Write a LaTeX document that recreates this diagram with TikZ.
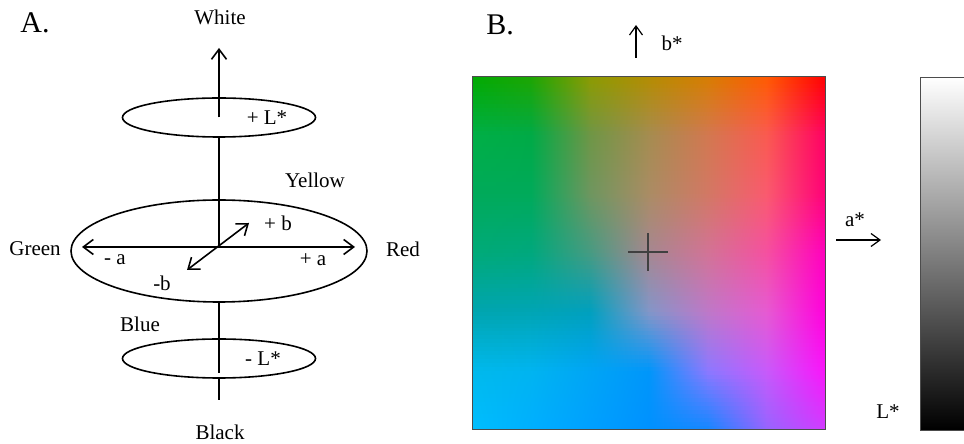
\documentclass[tikz,border=0pt]{standalone}
\usepackage{fontspec}
\setmainfont{Liberation Serif}
\usepackage{tikz}
\usetikzlibrary{arrows.meta,shapes.geometric}
\tikzset{
    >={Straight Barb[length=10pt,width=15pt]}, % open v-shaped heads
    axisline/.style={line width=1.6pt, draw=black},
    level/.style={ellipse, draw=black, line width=1.6pt, inner sep=0pt},
    lbl/.style={font=\fontsize{21}{24}\selectfont, inner sep=0pt},
    panel/.style={font=\fontsize{30}{34}\selectfont, inner sep=0pt},
    thinarrow/.style={line width=1.2pt, -{Straight Barb[length=9pt,width=13pt]}},
    thinframe/.style={line width=0.8pt, draw=black!70}
}
% control colours of the a*b* plane, rows top to bottom (7x7, 0..255)
\def\Rgrid{{0,30,140,180,215,255,255,0,0,110,165,210,250,255,0,0,110,170,210,250,255,0,0,70,165,210,245,255,0,0,0,130,190,230,255,0,0,0,0,140,200,250,0,0,0,0,20,150,210}}
\def\Ggrid{{170,165,155,140,125,90,0,175,170,150,140,120,90,0,170,170,150,140,120,90,0,170,168,155,135,115,80,0,165,165,160,150,120,90,0,185,180,165,150,120,90,20,190,175,160,145,135,100,60}}
\def\Bgrid{{0,0,0,0,0,0,0,70,70,70,80,80,80,100,90,90,95,100,100,110,120,120,125,130,145,150,160,190,175,180,190,200,200,210,220,235,240,245,250,255,250,250,255,255,255,255,255,255,255}}
% look up one channel at grid index #3 and #4, blend with \s
\newcommand{\gridmix}[4]{%
  \pgfmathsetmacro{\gua}{#2[#3]}%
  \pgfmathsetmacro{\gub}{#2[#4]}%
  \pgfmathsetmacro{#1}{(\gua*(1-\s)+\gub*\s)/255}%
}

\begin{document}
\begin{tikzpicture}[x=1pt,y=1pt]
  \useasboundingbox (0,0) rectangle (964,444);

  % ---------- A. the L*a*b* solid ----------
  \node[panel] (titleA) at (35,421) {A.};

  \node[level, minimum width=193pt, minimum height=39pt] (lplus) at (219,326.5) {};
  \node[level, minimum width=296pt, minimum height=102pt] (lzero) at (219,193) {};
  \node[level, minimum width=193pt, minimum height=39pt] (lminus) at (219,85.5) {};

  \coordinate (O) at (219,197);
  \coordinate (Ltop) at (219,396);
  \coordinate (cut) at (219,71);
  \coordinate (Lbot) at (219,44);
  \coordinate (amin) at (82,197);
  \coordinate (aplus) at (355,197);
  \coordinate (bmin) at (187,174);
  \coordinate (bplus) at (249,221);

  % lightness axis, hidden behind the front halves
  \draw[axisline,->] (lplus.center) -- (Ltop);
  \draw[axisline] (lplus.south) -- (O);
  \draw[axisline] (lzero.south) -- (cut);
  \draw[axisline] (lminus.south) -- (Lbot);

  % a and b axes
  \draw[axisline,<->] (amin) -- (aplus);
  \draw[axisline,<->] (bmin) -- (bplus);

  \node[lbl] (white) at (220,427) {White};
  \node[lbl] (black) at (220,12) {Black};
  \node[lbl] (yellow) at (315,264) {Yellow};
  \node[lbl] (blue) at (140,120) {Blue};
  \node[lbl] (green) at (35,195) {Green};
  \node[lbl] (red) at (403,195) {Red};
  \node[lbl] (Lp) at (267,326) {+ L*};
  \node[lbl] (Lm) at (263,85) {- L*};
  \node[lbl] (bp) at (278,221) {+ b};
  \node[lbl] (bm) at (162,161) {-b};
  \node[lbl] (am) at (115,184) {- a};
  \node[lbl] (ap) at (313,184) {+ a};

  % ---------- B. the a*b* plane ----------
  \node[panel] (titleB) at (500,419) {B.};

  \begin{scope}
    \clip (472,14) rectangle (825,367);
    \foreach \r in {0,...,89} {
      \pgfmathsetmacro{\t}{(\r+0.5)/15}
      \pgfmathtruncatemacro{\k}{min(int(\t),5)}
      \pgfmathsetmacro{\s}{\t-\k}
      \pgfmathsetmacro{\ytop}{367-\r*3.92222}
      \pgfmathsetmacro{\ybot}{367-(\r+1)*3.92222-0.6}
      \foreach \c in {0,...,5} {
        \pgfmathtruncatemacro{\ia}{\k*7+\c}
        \pgfmathtruncatemacro{\ib}{\ia+7}
        \pgfmathtruncatemacro{\ja}{\ia+1}
        \pgfmathtruncatemacro{\jb}{\ia+8}
        \gridmix{\ra}{\Rgrid}{\ia}{\ib}
        \gridmix{\ga}{\Ggrid}{\ia}{\ib}
        \gridmix{\ba}{\Bgrid}{\ia}{\ib}
        \gridmix{\rb}{\Rgrid}{\ja}{\jb}
        \gridmix{\gb}{\Ggrid}{\ja}{\jb}
        \gridmix{\bb}{\Bgrid}{\ja}{\jb}
        \definecolor{cl}{rgb}{\ra,\ga,\ba}
        \definecolor{cr}{rgb}{\rb,\gb,\bb}
        \pgfmathsetmacro{\xl}{472+\c*58.8333}
        \pgfmathsetmacro{\xr}{472+(\c+1)*58.8333+0.6}
        \shade[left color=cl, right color=cr] (\xl,\ybot) rectangle (\xr,\ytop);
      }
    }
  \end{scope}
  \node[thinframe, minimum width=353pt, minimum height=353pt, inner sep=0pt,
        anchor=south west] (plane) at (472,14) {};

  % neutral point
  \coordinate (cross) at (648,192);
  \draw[line width=1.2pt, black!75] (cross) ++(-20,0) -- ++(40,0);
  \draw[line width=1.2pt, black!75] (cross) ++(0,-19) -- ++(0,38);

  % axis arrows
  \coordinate (btail) at (636,386);
  \coordinate (bhead) at (636,419);
  \coordinate (atail) at (836,204);
  \coordinate (ahead) at (881,204);
  \draw[thinarrow] (btail) -- (bhead);
  \draw[thinarrow] (atail) -- (ahead);
  \node[lbl] (bstar) at (672,401) {b*};
  \node[lbl] (astar) at (855,224) {a*};

  % lightness bar
  \shade[top color=white, middle color=black!45, bottom color=black] (920,14) rectangle (975,367);
  \draw[thinframe] (975,14) -- (920,14) -- (920,367) -- (975,367);
  \node[lbl] (Lstar) at (888,32) {L*};

\end{tikzpicture}
\end{document}
